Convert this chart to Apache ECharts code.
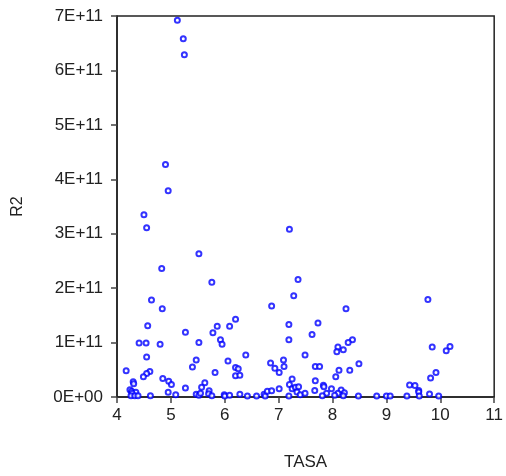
<!DOCTYPE html>
<html>
<head>
<meta charset="utf-8">
<script src="https://cdn.jsdelivr.net/npm/echarts@6/dist/echarts.min.js"></script>
<style>
  html, body { margin: 0; padding: 0; background: #fff; }
  #chart { width: 506px; height: 476px; }
</style>
</head>
<body>
<div id="chart"></div>
<script>
// TASA (x) values
const tasa = [
  5.12, 5.23, 5.25, 4.90, 4.95, 4.50, 4.55, 7.20, 5.52, 4.83,
  7.36, 5.76, 7.28, 4.64, 6.87, 4.84, 9.77, 8.25, 7.73, 7.62,
  8.37, 8.29, 8.10, 8.08, 8.20, 9.85, 10.18, 10.11, 7.49, 8.49,
  7.68, 7.76, 8.12, 8.32, 8.06, 9.92, 9.82, 7.68, 9.43, 9.53,
  7.83, 7.84, 7.98, 7.67, 8.16, 9.60, 9.60, 7.89, 8.10, 8.22,
  9.80, 8.04, 8.20, 7.81, 8.48, 8.82, 9.00, 9.07, 9.38, 9.61,
  9.97, 7.19, 4.57, 5.86, 6.09, 6.20, 5.27, 5.78, 7.19, 5.92,
  5.95, 4.41, 4.54, 4.80, 5.52, 4.55, 6.39, 5.47, 6.06, 7.09,
  7.10, 6.85, 6.93, 7.01, 5.40, 6.20, 6.25, 6.20, 6.28, 5.82,
  4.17, 4.61, 4.55, 4.49, 4.85, 4.96, 5.01, 4.30, 4.31, 7.25,
  7.20, 7.25, 7.31, 7.37, 7.34, 7.40, 7.49, 7.19, 5.27, 5.63,
  5.57, 5.71, 5.70, 5.47, 5.52, 5.55, 5.76, 4.95, 5.09, 4.62,
  4.24, 4.27, 4.35, 4.28, 4.26, 4.33, 4.39, 5.99, 6.00, 6.09,
  6.28, 6.42, 6.59, 6.73, 6.75, 6.79, 6.87, 7.01
];
// R2 (y) values
const r2 = [
  6.92e11, 6.58e11, 6.29e11, 4.27e11, 3.79e11, 3.35e11, 3.11e11, 3.08e11, 2.63e11, 2.36e11,
  2.16e11, 2.11e11, 1.86e11, 1.78e11, 1.67e11, 1.62e11, 1.79e11, 1.62e11, 1.36e11, 1.15e11,
  1.05e11, 1.00e11, 0.92e11, 0.83e11, 0.87e11, 0.92e11, 0.93e11, 0.85e11, 0.77e11, 0.61e11,
  0.56e11, 0.56e11, 0.49e11, 0.49e11, 0.37e11, 0.45e11, 0.35e11, 0.30e11, 0.22e11, 0.21e11,
  0.215e11, 0.19e11, 0.15e11, 0.12e11, 0.13e11, 0.12e11, 0.09e11, 0.07e11, 0.07e11, 0.08e11,
  0.055e11, 0.03e11, 0.025e11, 0.025e11, 0.02e11, 0.02e11, 0.02e11, 0.02e11, 0.02e11, 0.02e11,
  0.02e11, 1.33e11, 1.31e11, 1.30e11, 1.30e11, 1.43e11, 1.19e11, 1.18e11, 1.05e11, 1.05e11,
  0.97e11, 0.99e11, 0.99e11, 0.97e11, 1.00e11, 0.735e11, 0.77e11, 0.68e11, 0.66e11, 0.68e11,
  0.56e11, 0.625e11, 0.53e11, 0.45e11, 0.55e11, 0.54e11, 0.52e11, 0.39e11, 0.40e11, 0.45e11,
  0.48e11, 0.47e11, 0.43e11, 0.37e11, 0.34e11, 0.29e11, 0.23e11, 0.28e11, 0.245e11, 0.33e11,
  0.23e11, 0.15e11, 0.18e11, 0.19e11, 0.09e11, 0.04e11, 0.07e11, 0.02e11, 0.165e11, 0.26e11,
  0.18e11, 0.115e11, 0.06e11, 0.05e11, 0.03e11, 0.07e11, 0.025e11, 0.085e11, 0.04e11, 0.025e11,
  0.135e11, 0.105e11, 0.085e11, 0.07e11, 0.025e11, 0.025e11, 0.025e11, 0.04e11, 0.02e11, 0.03e11,
  0.05e11, 0.02e11, 0.02e11, 0.05e11, 0.02e11, 0.105e11, 0.115e11, 0.15e11
];

const chart = echarts.init(document.getElementById("chart"));
const font = "Liberation Sans, Arial, sans-serif";

let option = {
  backgroundColor: "#fff",
  animation: false,
  grid: {
    left: 117,
    top: 16,
    right: 9,
    bottom: 79,
    show: true,
    borderColor: "#222",
    borderWidth: 1.5,
    backgroundColor: "transparent"
  },
  xAxis: {
    type: "value",
    min: 4,
    max: 11,
    interval: 1,
    name: "TASA",
    nameLocation: "middle",
    nameGap: 57,
    nameTextStyle: { fontFamily: font, fontSize: 17, color: "#222" },
    axisLine: { show: true, onZero: false, lineStyle: { color: "#222", width: 1.5 } },
    axisTick: { show: true, inside: false, length: 6, lineStyle: { color: "#444", width: 1.5 } },
    axisLabel: { fontFamily: font, fontSize: 17, color: "#222", margin: 10 },
    splitLine: { show: false }
  },
  yAxis: {
    type: "value",
    min: 0,
    max: 7e11,
    interval: 1e11,
    name: "R2",
    nameLocation: "middle",
    nameGap: 91,
    nameRotate: 90,
    nameTextStyle: { fontFamily: font, fontSize: 16, color: "#222" },
    axisLine: { show: true, onZero: false, lineStyle: { color: "#222", width: 1.5 } },
    axisTick: { show: true, inside: false, length: 6, lineStyle: { color: "#444", width: 1.5 } },
    axisLabel: {
      fontFamily: font,
      fontSize: 17,
      color: "#222",
      margin: 14,
      formatter: (v) => (v === 0 ? "0E+00" : Math.round(v / 1e11) + "E+11")
    },
    splitLine: { show: false }
  },
  series: [
    {
      type: "scatter",
      symbol: "emptyCircle",
      symbolSize: 5,
      itemStyle: { color: "#0000ff", borderColor: "#0000ff", borderWidth: 1.3 },
      data: tasa.map((x, i) => [x, r2[i]])
    }
  ]
};

option && chart.setOption(option);
</script>
</body>
</html>
